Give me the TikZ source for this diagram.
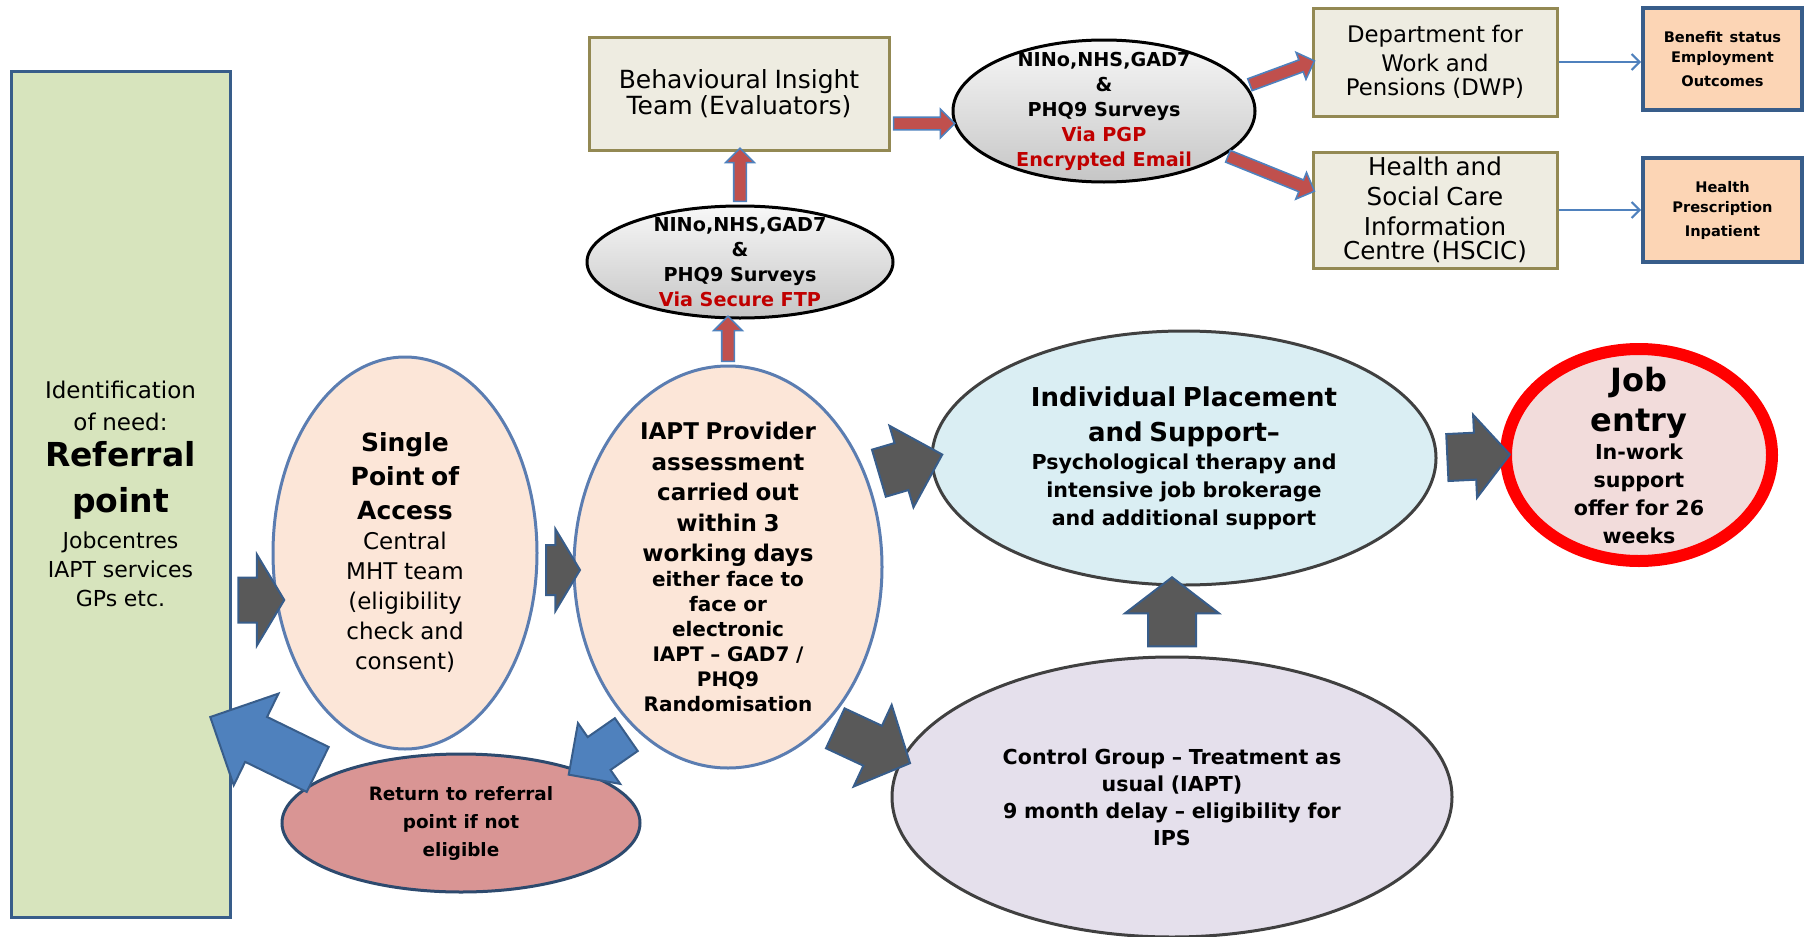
\documentclass[tikz,border=0pt]{standalone}
\usepackage{fontspec}
\setmainfont{DejaVu Sans}
\usetikzlibrary{shapes.geometric,shapes.arrows,calc,arrows.meta}
\setlength{\parindent}{0pt}

\definecolor{refgreen}{HTML}{D7E4BD}
\definecolor{peach}{HTML}{FCE6D8}
\definecolor{rosered}{HTML}{D99594}
\definecolor{paleblue}{HTML}{DAEEF3}
\definecolor{lilac}{HTML}{E5E0EC}
\definecolor{pinkfill}{HTML}{F2DCDB}
\definecolor{stone}{HTML}{EEECE1}
\definecolor{olive}{HTML}{938953}
\definecolor{apricot}{HTML}{FCD5B5}
\definecolor{navy}{HTML}{385D8A}
\definecolor{steel}{HTML}{4F81BD}
\definecolor{midblue}{HTML}{5B7DB1}
\definecolor{darkline}{HTML}{404040}
\definecolor{fatgray}{HTML}{595959}
\definecolor{brick}{HTML}{C0504D}
\definecolor{viared}{HTML}{C00000}

\newcommand{\fsz}[2]{\fontsize{#1pt}{#2pt}\selectfont}

% block arrow from #2 to #3
\newcommand{\fatarrow}[3][]{%
  \path let \p1=($(#3)-(#2)$), \n1={veclen(\x1,\y1)}, \n2={atan2(\y1,\x1)} in
    node[single arrow, #1, minimum height=\n1, rotate=\n2] at ($(#2)!0.5!(#3)$) {};}

\begin{document}
\begin{tikzpicture}[x=0.5pt,y=-0.5pt,
    every node/.style={inner sep=2pt},
    oval/.style={ellipse, inner sep=0pt},
    lbl/.style={align=center, text width=#1, inner sep=0pt},
    stonebox/.style={rectangle, draw=olive, fill=stone, line width=1.5pt, align=center},
    peachoval/.style={oval, draw=midblue, fill=peach, line width=1.5pt},
    survey/.style={oval, draw=black, line width=1.5pt, top color=gray!6, bottom color=gray!45},
    outbox/.style={rectangle, draw=navy, fill=apricot, line width=2pt, align=center},
    grayarrow/.style={draw=navy, fill=fatgray, line width=1pt, inner xsep=0pt},
    bluearrow/.style={draw=navy, fill=steel, line width=1pt, inner xsep=0pt, single arrow tip angle=90},
    redarrow/.style={draw=steel, fill=brick, line width=0.8pt, inner xsep=0pt, inner ysep=2.75pt,
      single arrow head extend=4pt, single arrow tip angle=90},
    linkarrow/.style={draw=steel, line width=1pt, -{Straight Barb[length=4pt,width=8pt]}}
  ]
\useasboundingbox (0,0) rectangle (1805,937);

% left column and first steps
\node[rectangle, draw=navy, fill=refgreen, line width=1.5pt, minimum width=109.5pt,
  minimum height=423pt, text width=104pt, align=center] (refpt) at (120.5,494)
  {{\fsz{11.5}{16}Identification\\of need:\endgraf}
   \vspace{-5pt}{\fsz{16.5}{23}\bfseries Referral\\point\endgraf}
   \vspace{3.5pt}{\fsz{11}{14.5}Jobcentres\\IAPT services\\GPs etc.\endgraf}};

\node[peachoval, minimum width=132pt, minimum height=196pt,
  label={[lbl=80pt]center:{{\fsz{12.5}{17}\bfseries Single\\Point of\\Access\endgraf}
    {\fsz{11.5}{15}Central\\MHT team\\(eligibility\\check and\\consent)\endgraf}}}] (spa) at (405,553) {};

\node[peachoval, minimum width=154pt, minimum height=201pt,
  label={[lbl=105pt]center:{{\fsz{11.5}{15.2}\bfseries IAPT Provider\\assessment\\carried out\\within 3\\working days\endgraf}
    {\fsz{10}{12.5}\bfseries either face to\\face or\\electronic\\IAPT -- GAD7 /\\PHQ9\\Randomisation\endgraf}}}] (iapt) at (728,567) {};

\node[oval, draw=navy!80!black, fill=rosered, line width=1.5pt, minimum width=179pt, minimum height=69pt,
  label={[lbl=120pt]center:{\fsz{9.2}{14}\bfseries Return to referral\\point if not\\eligible\endgraf}}] (ret) at (461,823) {};

% outcomes
\node[oval, draw=darkline, fill=paleblue, line width=1.5pt, minimum width=252pt, minimum height=127pt,
  label={[lbl=185pt]center:{{\fsz{13}{17.5}\bfseries Individual Placement\\and Support--\endgraf}
    {\fsz{10.3}{14}\bfseries Psychological therapy and\\intensive job brokerage\\and additional support\endgraf}}}] (ips) at (1184,458) {};

\node[oval, draw=darkline, fill=lilac, line width=1.5pt, minimum width=280pt, minimum height=140pt,
  label={[lbl=200pt]center:{\fsz{10.3}{13.5}\bfseries Control Group -- Treatment as\\usual (IAPT)\\9 month delay -- eligibility for\\IPS\endgraf}}] (ctrl) at (1172,797) {};

\node[oval, draw=red, fill=pinkfill, line width=6pt, minimum width=133pt, minimum height=106pt,
  label={[lbl=100pt]center:{{\fsz{16}{20}\bfseries Job\\entry\endgraf}
    {\fsz{10.3}{14}\bfseries In-work\\support\\offer for 26\\weeks\endgraf}}}] (job) at (1639,455) {};

% data flow
\node[stonebox, minimum width=150pt, minimum height=56.5pt, text width=142pt] (bit) at (739,93.5)
  {\fsz{12.5}{15}Behavioural Insight\\Team (Evaluators)};

\node[survey, minimum width=153pt, minimum height=56pt,
  label={[lbl=150pt]center:{\fsz{9.6}{12.5}\bfseries NINo,NHS,GAD7\\\&\\PHQ9 Surveys\\{\color{viared}Via Secure FTP}\endgraf}}] (ftp) at (740,262) {};

\node[survey, minimum width=151pt, minimum height=71pt,
  label={[lbl=150pt]center:{\fsz{9.6}{12.5}\bfseries NINo,NHS,GAD7\\\&\\PHQ9 Surveys\\{\color{viared}Via PGP\\Encrypted Email}\endgraf}}] (pgp) at (1104,111) {};

\node[stonebox, minimum width=122pt, minimum height=54pt, text width=116pt, inner ysep=0pt] (dwp) at (1435,62)
  {\fsz{11.4}{14.5}Department for\\Work and\\Pensions (DWP)};
\node[stonebox, minimum width=122pt, minimum height=58pt, text width=116pt, inner ysep=0pt] (hscic) at (1435,210)
  {\fsz{12.3}{15}Health and\\Social Care\\Information\\Centre (HSCIC)};

\node[outbox, minimum width=79.5pt, minimum height=51pt, text width=74pt] (ben) at (1722.5,59)
  {\fsz{7.3}{10}\bfseries Benefit status\\Employment\\Outcomes};
\node[outbox, minimum width=79.5pt, minimum height=52pt, text width=74pt] (hlth) at (1722.5,210)
  {\fsz{7.3}{10}\bfseries Health\\Prescription\\Inpatient};

% block arrows
\coordinate (a1) at ($(refpt.east)+(0,106)$);
\coordinate (a2) at ($(spa.west |- a1)+(6,0)$);
\fatarrow[grayarrow, inner ysep=10.75pt, single arrow head extend=11.5pt, single arrow tip angle=118]{a1}{a2}
\coordinate (b1) at ($(spa.east)+(0,17)$);
\coordinate (b2) at (iapt.west |- b1);
\fatarrow[grayarrow, inner ysep=12pt, single arrow head extend=8pt, single arrow tip angle=118]{b1}{b2}
\fatarrow[grayarrow, inner ysep=11.75pt, single arrow head extend=9pt, single arrow tip angle=90]{iapt.33}{ips.west}
\fatarrow[grayarrow, inner ysep=10.5pt, single arrow head extend=11.5pt, single arrow tip angle=95]{iapt.-58}{ctrl.172}
\coordinate (e2) at (ctrl.north |- ips.south);
\fatarrow[grayarrow, inner ysep=11.5pt, single arrow head extend=11.5pt, single arrow tip angle=105]{ctrl.north}{e2}
\fatarrow[grayarrow, inner ysep=11.25pt, single arrow head extend=9pt, single arrow tip angle=100]{ips.east}{job.west}

\fatarrow[bluearrow, inner ysep=9.5pt, single arrow head extend=8.5pt]{iapt.240}{ret.25}
\coordinate (h2) at ($(refpt.east |- ret.north)+(-10,-30)$);
\fatarrow[bluearrow, inner ysep=12pt, single arrow head extend=13pt]{ret.160}{h2}

% survey arrows
\coordinate (k1) at (ftp.north |- bit.south);
\fatarrow[redarrow]{ftp.north}{k1}
\coordinate (k2) at (iapt.north |- ftp.south);
\fatarrow[redarrow]{iapt.north}{k2}
\coordinate (k3) at ($(bit.east)+(0,30)$);
\coordinate (k4) at (pgp.west |- k3);
\fatarrow[redarrow]{k3}{k4}
\fatarrow[redarrow]{pgp.10}{dwp.west}
\coordinate (k5) at ($(hscic.west)+(0,-20)$);
\fatarrow[redarrow]{pgp.-20}{k5}

\draw[linkarrow] (dwp.east) -- (ben.west |- dwp.east);
\draw[linkarrow] (hscic.east) -- (hlth.west |- hscic.east);
\end{tikzpicture}
\end{document}
